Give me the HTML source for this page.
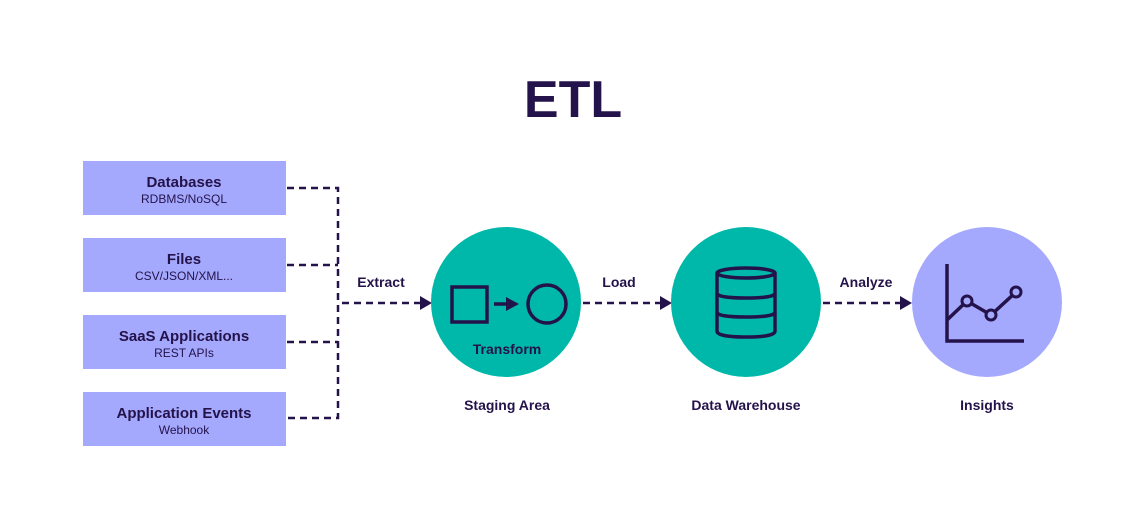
<!DOCTYPE html>
<html><head><meta charset="utf-8"><style>
html,body{margin:0;padding:0;background:#fff;}
body{width:1145px;height:518px;overflow:hidden;font-family:"Liberation Sans",sans-serif;}
</style></head><body>
<svg width="1145" height="518" viewBox="0 0 1145 518" xmlns="http://www.w3.org/2000/svg" font-family="Liberation Sans, sans-serif">
<rect width="1145" height="518" fill="#fff"/>
<text x="573" y="117" text-anchor="middle" font-size="52" font-weight="bold" fill="#24124a">ETL</text>
<g fill="#a4a9fd">
<rect x="83" y="161" width="203" height="54"/>
<rect x="83" y="238" width="203" height="54"/>
<rect x="83" y="315" width="203" height="54"/>
<rect x="83" y="392" width="203" height="54"/>
</g>
<g fill="#24124a" text-anchor="middle">
<text x="184" y="187" font-size="15" font-weight="bold">Databases</text>
<text x="184" y="203" font-size="12">RDBMS/NoSQL</text>
<text x="184" y="264" font-size="15" font-weight="bold">Files</text>
<text x="184" y="280" font-size="12">CSV/JSON/XML...</text>
<text x="184" y="341" font-size="15" font-weight="bold">SaaS Applications</text>
<text x="184" y="357" font-size="12">REST APIs</text>
<text x="184" y="418" font-size="15" font-weight="bold">Application Events</text>
<text x="184" y="434" font-size="12">Webhook</text>
</g>
<g stroke="#24124a" stroke-width="2.5" stroke-dasharray="7,5" fill="none">
<path d="M287 188 H338 V418 H287"/>
<path d="M287 265 H338"/>
<path d="M287 342 H338"/>
<path d="M342 303 H422"/>
<path d="M583 303 H662"/>
<path d="M823 303 H902"/>
</g>
<g fill="#24124a">
<path d="M420 296 L432 303 L420 310Z"/>
<path d="M660 296 L672 303 L660 310Z"/>
<path d="M900 296 L912 303 L900 310Z"/>
</g>
<g fill="#24124a" font-size="14" font-weight="bold" text-anchor="middle">
<text x="381" y="287">Extract</text>
<text x="619" y="287">Load</text>
<text x="866" y="287">Analyze</text>
</g>
<circle cx="506" cy="302" r="75" fill="#00b8a9"/>
<circle cx="746" cy="302" r="75" fill="#00b8a9"/>
<circle cx="987" cy="302" r="75" fill="#a4a9fd"/>
<g stroke="#24124a" stroke-width="3.5" fill="none">
<rect x="452" y="287" width="35" height="35"/>
<path d="M494 304 H508"/>
<circle cx="547" cy="304" r="19"/>
<ellipse cx="746" cy="273" rx="29" ry="5"/>
<path d="M717 273 V331 Q717 337 746 337 Q775 337 775 331 V273"/>
<path d="M717 293 Q717 298 746 298 Q775 298 775 293"/>
<path d="M717 312 Q717 317 746 317 Q775 317 775 312"/>
<path d="M947 264 V341 H1024"/>
<path d="M947 320 L967 301 L991 315 L1016 292"/>
</g>
<path d="M506 297 L519 304 L506 311Z" fill="#24124a"/>
<g stroke="#24124a" stroke-width="3" fill="#a4a9fd">
<circle cx="967" cy="301" r="5"/>
<circle cx="991" cy="315" r="5"/>
<circle cx="1016" cy="292" r="5"/>
</g>
<g fill="#24124a" font-size="14" font-weight="bold" text-anchor="middle">
<text x="507" y="354">Transform</text>
<text x="507" y="410">Staging Area</text>
<text x="746" y="410">Data Warehouse</text>
<text x="987" y="410">Insights</text>
</g>
</svg>
</body></html>
